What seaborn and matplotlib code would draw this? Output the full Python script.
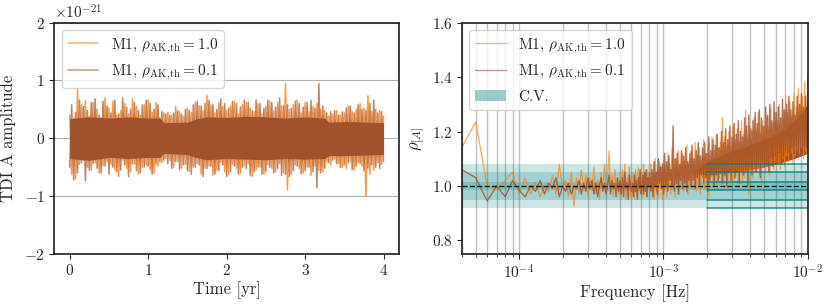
import numpy as np
import matplotlib
matplotlib.use('Agg')
import matplotlib.pyplot as plt
import seaborn as sns

# ---- data (time series in units of 1e-21) ----
t_start, t_end = 0.0, 4.0
amp_scale = 1e-21

amp_rho10 = [
    0.40, -0.62, 0.35, -0.70, 0.85, -0.45, 0.58, -0.38, 0.66, -0.50,
    0.38, -0.55, 0.62, -0.42, 0.50, -0.60, 0.36, -0.48, 0.70, -0.40,
    0.52, -0.45, 0.64, -0.55, 0.40, -0.66, 0.48, -0.38, 0.60, -0.52,
    0.42, -0.58, 0.68, -0.44, 0.55, -0.62, 0.40, -0.50, 0.58, -0.46,
    0.66, -0.55, 0.45, -0.60, 0.62, -0.48, 0.36, -0.42, 0.44, -0.35,
    0.45, -0.38, 0.40, -0.50, 0.55, -0.40, 0.46, -0.52, 0.38, -0.45,
    0.52, -0.58, 0.45, -0.50, 0.62, -0.44, 0.56, -0.62, 0.48, -0.52,
    0.74, -0.48, 0.58, -0.64, 0.44, -0.55, 0.62, -0.42, 0.55, -0.58,
    0.48, -0.62, 0.56, -0.45, 0.64, -0.52, 0.42, -0.60, 0.58, -0.48,
    0.62, -0.44, 0.52, -0.66, 0.46, -0.55, 0.60, -0.50, 0.42, -0.62,
    0.55, -0.46, 0.64, -0.52, 0.48, -0.58, 0.62, -0.44, 0.56, -0.60,
    0.95, -0.89, 0.50, -0.62, 0.58, -0.46, 0.66, -0.52, 0.44, -0.60,
    0.62, -0.50, 0.46, -0.64, 0.55, -0.48, 0.60, -0.56, 0.50, -0.58,
    0.48, -0.40, 0.38, -0.46, 0.42, -0.36, 0.48, -0.44, 0.40, -0.50,
    0.44, -0.52, 0.56, -0.40, 0.46, -0.55, 0.50, -0.42, 0.60, -0.48,
    0.52, -1.00, 0.74, -0.62, 0.46, -0.55, 0.50, -0.42, 0.48, -0.45, 0.38,
]
amp_rho01 = [
    -0.50, 0.58, -0.72, 0.45, -0.60, 0.66, -0.42, 0.55, -0.74, 0.48,
    -0.55, 0.62, -0.44, 0.68, -0.52, 0.40, -0.60, 0.64, -0.48, 0.56,
    -0.62, 0.44, -0.50, 0.66, -0.58, 0.42, -0.55, 0.70, -0.46, 0.54,
    -0.66, 0.50, -0.44, 0.62, -0.56, 0.48, -0.60, 0.58, -0.50, 0.66,
    -0.48, 0.60, -0.62, 0.50, -0.44, 0.58, -0.40, 0.46, -0.38, 0.42,
    -0.44, 0.40, -0.52, 0.44, -0.40, 0.48, -0.54, 0.42, -0.46, 0.50,
    -0.56, 0.48, -0.62, 0.58, -0.50, 0.64, -0.46, 0.56, -0.66, 0.60,
    -0.52, 0.66, -0.48, 0.58, -0.62, 0.50, -0.56, 0.68, -0.46, 0.60,
    -0.66, 0.52, -0.58, 0.64, -0.48, 0.60, -0.62, 0.54, -0.50, 0.66,
    -0.52, 0.62, -0.64, 0.48, -0.58, 0.66, -0.50, 0.60, -0.62, 0.52,
    -0.58, 0.66, -0.50, 0.62, -0.60, 0.54, -0.52, 0.70, -0.64, 0.56,
    -0.62, 0.58, -0.66, 0.52, -0.56, 0.64, -0.48, 0.60, -0.62, 0.54,
    -0.56, 0.62, -0.50, 0.66, -0.58, 0.52, -0.85, 0.95, -0.60, 0.56,
    -0.52, 0.44, -0.42, 0.46, -0.38, 0.48, -0.44, 0.40, -0.50, 0.46,
    -0.46, 0.52, -0.42, 0.56, -0.54, 0.44, -0.48, 0.58, -0.44, 0.50,
    -0.56, 0.48, -0.52, 0.60, -0.46, 0.66, -0.50, 0.44, -0.52, 0.46, -0.40,
]
# solid core of the dense time series
core_t = [0.0, 0.25, 0.5, 0.75, 1.0, 1.15, 1.2, 1.5, 1.6, 1.75, 2.0, 2.25,
          2.5, 2.75, 3.0, 3.25, 3.3, 3.5, 3.75, 4.0]
core_hi = [0.34, 0.37, 0.35, 0.37, 0.35, 0.35, 0.27, 0.28, 0.33, 0.37, 0.36,
           0.38, 0.37, 0.35, 0.37, 0.35, 0.28, 0.29, 0.28, 0.27]
core_lo = [-0.35, -0.38, -0.33, -0.35, -0.33, -0.33, -0.26, -0.28, -0.33,
           -0.37, -0.35, -0.36, -0.37, -0.35, -0.36, -0.35, -0.30, -0.30,
           -0.29, -0.28]

# ---- rho_[A] vs frequency ----
f_low_start, f_low_step = 4e-5, 1e-5
rho10_low = [
    1.14, 1.235, 1.00, 0.99, 1.02, 1.05, 0.97,
    1.03, 0.97, 1.01, 0.96, 1.00, 0.98, 1.04, 0.97, 1.08, 0.99,
    1.02, 0.96, 1.05, 0.925, 1.03, 0.97, 1.06, 0.99, 1.04, 0.96,
    1.03, 0.98, 1.07, 0.97, 1.02, 0.95, 1.05, 0.99, 1.08, 0.97,
    1.02, 1.13, 0.98, 1.04, 0.96, 1.06, 0.99, 1.03, 0.97, 1.05,
    0.95, 1.06, 0.98, 1.08, 0.95, 1.03, 0.99, 1.07, 0.96, 1.04,
    0.97, 1.05, 0.95, 1.06, 1.00, 0.96, 1.07, 0.98, 1.03, 0.97,
    1.05, 0.96, 1.08, 0.99, 1.04, 0.97, 1.06, 1.00, 1.03, 0.98,
]
rho01_low = [
    1.06, 1.03, 0.945, 1.00, 0.96, 1.02, 0.985,
    0.96, 1.00, 0.98, 1.02, 0.97, 1.01, 0.99, 1.03, 0.96, 1.00,
    0.98, 1.01, 0.97, 1.00, 0.99, 1.02, 0.97, 1.01, 0.98, 1.03,
    0.99, 1.02, 0.97, 1.01, 0.96, 1.00, 1.03, 0.98, 1.01, 0.97,
    1.00, 1.04, 0.97, 1.02, 0.99, 1.01, 0.96, 1.03, 0.98, 1.02,
    0.97, 1.03, 0.96, 1.05, 0.99, 1.01, 0.95, 1.04, 1.00, 0.98,
    1.01, 0.96, 1.04, 0.98, 1.02, 0.95, 1.03, 0.99, 1.06, 0.97,
    0.99, 1.04, 0.97, 1.05, 0.98, 1.06, 0.96, 1.03, 1.00, 1.05,
]
f_high_start, f_high_end = 8.2e-4, 1e-2
rho10_high = [
    1.08, 0.97, 1.05, 0.95, 1.10, 0.98, 1.06, 0.96, 1.09, 0.99,
    1.07, 0.95, 1.11, 0.98, 1.06, 0.96, 1.12, 1.00, 1.08, 0.97,
    1.14, 0.99, 1.07, 0.96, 1.10, 1.00, 1.13, 0.97, 1.08, 1.01,
    1.12, 0.98, 1.09, 1.01, 1.15, 0.97, 1.08, 1.00, 1.13, 0.99,
    1.10, 1.02, 1.16, 0.98, 1.11, 1.01, 1.14, 0.97, 1.09, 1.03,
    1.17, 0.99, 1.12, 1.02, 1.15, 0.96, 1.10, 1.03, 1.18, 1.00,
    1.13, 1.02, 1.19, 0.99, 1.14, 1.03, 1.16, 1.00, 1.25, 1.01,
    1.18, 1.03, 1.15, 0.98, 1.20, 1.04, 1.14, 1.01, 1.22, 1.02,
    1.17, 1.04, 1.21, 0.99, 1.16, 1.05, 1.24, 1.02, 1.19, 1.03,
    1.28, 1.05, 1.18, 0.97, 1.22, 1.06, 1.20, 1.03, 1.25, 1.05,
    1.21, 1.06, 1.27, 1.04, 1.19, 1.00, 1.24, 1.07, 1.22, 1.05,
    1.26, 1.07, 1.21, 1.04, 1.29, 1.08, 1.23, 1.06, 1.27, 1.09,
    1.24, 1.08, 1.30, 1.06, 1.25, 1.10, 1.28, 1.07, 1.33, 1.11,
    1.27, 1.09, 1.31, 1.12, 1.26, 1.08, 1.34, 1.11, 1.29, 1.13,
    1.36, 1.12, 1.30, 1.14, 1.33, 1.10, 1.38, 1.13, 1.12, 1.40,
]
rho01_high = [
    0.98, 1.06, 0.96, 1.09, 1.00, 1.05, 0.97, 1.10, 1.01, 1.07,
    0.99, 1.08, 0.97, 1.12, 1.00, 1.09, 0.98, 1.11, 1.02, 1.06,
    1.00, 1.22, 0.98, 1.10, 1.01, 1.12, 0.97, 1.08, 1.02, 1.13,
    0.99, 1.11, 1.01, 1.14, 0.98, 1.09, 1.02, 1.12, 1.00, 1.15,
    1.02, 1.10, 0.99, 1.13, 1.03, 1.16, 1.00, 1.11, 1.04, 1.14,
    1.01, 1.16, 1.03, 1.12, 0.98, 1.18, 1.02, 1.13, 1.04, 1.17,
    1.00, 1.15, 1.04, 1.19, 1.02, 1.14, 1.05, 1.20, 1.01, 1.16,
    1.04, 1.21, 1.00, 1.17, 1.05, 1.22, 1.02, 1.18, 1.06, 1.23,
    1.03, 1.19, 1.05, 1.24, 1.01, 1.20, 1.06, 1.18, 1.04, 1.25,
    1.06, 1.22, 1.00, 1.26, 1.07, 1.21, 1.04, 1.24, 1.08, 1.27,
    1.05, 1.23, 1.08, 1.28, 1.03, 1.25, 1.09, 1.22, 1.07, 1.29,
    1.08, 1.26, 1.05, 1.30, 1.10, 1.24, 1.07, 1.31, 1.11, 1.27,
    1.09, 1.29, 1.12, 1.25, 1.08, 1.32, 1.11, 1.28, 1.13, 1.30,
    1.12, 1.33, 1.10, 1.28, 1.14, 1.31, 1.12, 1.26, 1.15, 1.33,
    1.13, 1.30, 1.16, 1.34, 1.12, 1.29, 1.15, 1.33, 1.14, 1.31,
]
# solid core of the dense high-frequency part
rcore_f = [1.6e-3, 2e-3, 3e-3, 4e-3, 5e-3, 6e-3, 7e-3, 8e-3, 9e-3, 1e-2]
rcore_lo = [1.05, 1.04, 1.05, 1.06, 1.07, 1.08, 1.09, 1.10, 1.11, 1.12]
rcore_hi = [1.05, 1.09, 1.13, 1.15, 1.17, 1.19, 1.21, 1.24, 1.27, 1.30]

# cosmic-variance half widths around 1
cv_half_widths = [0.08, 0.05, 0.015]
cv_edge_start = 2e-3
f_min, f_max = 4e-5, 1e-2

labels = [r'M1, $\rho_{\mathrm{AK{,}th}} = 1.0$', r'M1, $\rho_{\mathrm{AK{,}th}} = 0.1$']
c_orange = '#ff7f0e'
c_brown = 'sienna'
c_cv = 'teal'

sns.set_theme(style='ticks')
plt.rcParams['font.family'] = 'serif'
plt.rcParams['font.serif'] = ['cmr10', 'DejaVu Serif']
plt.rcParams['mathtext.fontset'] = 'cm'
plt.rcParams['axes.formatter.use_mathtext'] = True
plt.rcParams['axes.unicode_minus'] = True

fig = plt.figure(figsize=(8.31, 3.06), dpi=100)
ax1 = fig.add_axes([0.065, 0.17, 0.4155, 0.756])
ax2 = fig.add_axes([0.5556, 0.17, 0.4164, 0.756])

# ---- left: time series ----
t = np.linspace(t_start, t_end, len(amp_rho10))
sns.lineplot(x=t, y=np.array(amp_rho10) * amp_scale, ax=ax1, color=c_orange,
             alpha=0.8, lw=1.1, label=labels[0])
sns.lineplot(x=t, y=np.array(amp_rho01) * amp_scale, ax=ax1, color=c_brown,
             alpha=0.7, lw=1.1, label=labels[1])
ax1.fill_between(core_t, np.array(core_lo) * amp_scale,
                 np.array(core_hi) * amp_scale, color=c_brown, lw=0, zorder=3)
ax1.set_ylim(-2e-21, 2e-21)
ax1.set_xlim(-0.2, 4.2)
ax1.set_yticks(np.array([-2, -1, 0, 1, 2]) * amp_scale)
ax1.set_xticks([0, 1, 2, 3, 4])
ax1.yaxis.grid(True, color='#b0b0b0', lw=0.8)
ax1.set_axisbelow(True)
ax1.set_xlabel('Time [yr]', fontsize=12, labelpad=2)
ax1.set_ylabel('TDI A amplitude', fontsize=12, labelpad=6)
leg = ax1.legend(loc='upper left', fontsize=11)
for h in leg.legend_handles:
    h.set_alpha(0.6)

# ---- right: rho_[A] ----
f_low = f_low_start + f_low_step * np.arange(len(rho10_low))
f_high = np.geomspace(f_high_start, f_high_end, len(rho10_high))
freq = np.concatenate([f_low, f_high])
rho10 = np.array(rho10_low + rho10_high)
rho01 = np.array(rho01_low + rho01_high)

ax2.fill_between(rcore_f, rcore_lo, rcore_hi, color=c_brown, lw=0, zorder=1.5)
sns.lineplot(x=freq, y=rho10, ax=ax2, color=c_orange, alpha=0.7, lw=0.9,
             label=labels[0])
sns.lineplot(x=freq, y=rho01, ax=ax2, color=c_brown, alpha=0.8, lw=1.0,
             label=labels[1])
for i, hw in enumerate(cv_half_widths):
    ax2.fill_between([f_min, f_max], 1 - hw, 1 + hw, color=c_cv, alpha=0.2,
                     lw=0, label='C.V.' if i == 0 else None)
    for y in (1 - hw, 1 + hw):
        ax2.plot([cv_edge_start, f_max], [y, y], color=c_cv, lw=1.2, alpha=0.8)
ax2.axhline(1.0, color='k', ls='--', lw=1.0)
ax2.set_xscale('log')
ax2.set_xlim(f_min, f_max)
ax2.set_ylim(0.75, 1.6)
ax2.set_yticks([0.8, 1.0, 1.2, 1.4, 1.6])
ax2.xaxis.grid(True, which='both', color='gray', alpha=0.5, lw=1.0)
ax2.set_axisbelow(True)
ax2.set_xlabel('Frequency [Hz]', fontsize=12, labelpad=2)
ax2.set_ylabel(r'$\rho_{[A]}$', fontsize=12, labelpad=4)
leg2 = ax2.legend(loc='upper left', fontsize=11)
for h in leg2.legend_handles[:2]:
    h.set_alpha(0.6)
leg2.legend_handles[2].set_alpha(0.4)

for ax in (ax1, ax2):
    ax.tick_params(labelsize=11, length=3.5, width=0.8, pad=3)
    ax.tick_params(which='minor', length=2, width=0.6)
    ax.yaxis.get_offset_text().set_fontsize(11)

fig.savefig('out.png', dpi=100)
